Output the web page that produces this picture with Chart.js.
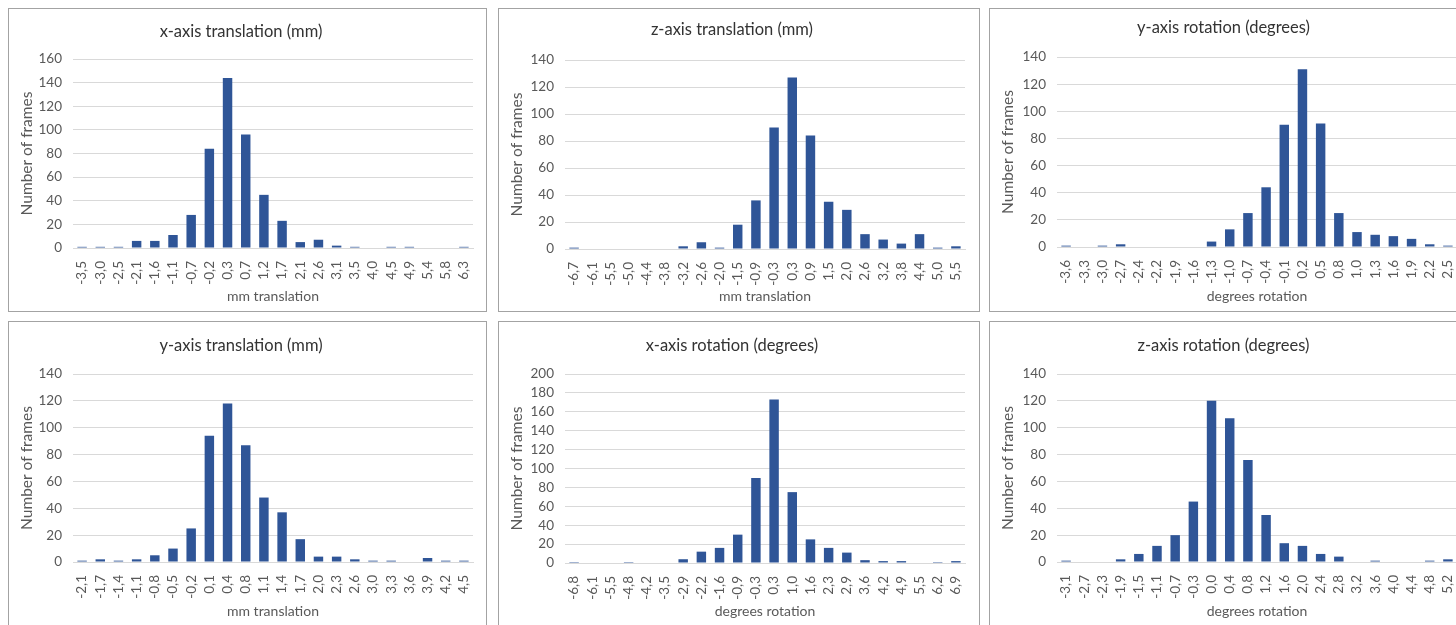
<!DOCTYPE html>
<html>
<head>
<meta charset="utf-8">
<script src="https://cdn.jsdelivr.net/npm/chart.js@4.4.1/dist/chart.umd.min.js"></script>
<style>
  body { margin: 0; width: 1456px; height: 625px; overflow: hidden; background: #fff; position: relative; }
  .panel { position: absolute; border: 1px solid #a3a3a3; background: #fff; overflow: hidden; }
  .panel canvas { display: block; }
</style>
</head>
<body>
<div class="panel" style="left:8px;top:8px;width:477px;height:302px"><canvas id="c1" width="477" height="302"></canvas></div>
<div class="panel" style="left:498px;top:8px;width:480px;height:302px"><canvas id="c2" width="480" height="302"></canvas></div>
<div class="panel" style="left:989px;top:8px;width:480px;height:302px"><canvas id="c3" width="480" height="302"></canvas></div>
<div class="panel" style="left:8px;top:321px;width:477px;height:310px"><canvas id="c4" width="477" height="304"></canvas></div>
<div class="panel" style="left:498px;top:321px;width:480px;height:310px"><canvas id="c5" width="480" height="304"></canvas></div>
<div class="panel" style="left:989px;top:321px;width:480px;height:310px"><canvas id="c6" width="480" height="304"></canvas></div>
<script>
// x-axis translation (mm)
const xTransLabels = ['-3,5', '-3,0', '-2,5', '-2,1', '-1,6', '-1,1', '-0,7', '-0,2', '0,3', '0,7', '1,2', '1,7', '2,1', '2,6', '3,1', '3,5', '4,0', '4,5', '4,9', '5,4', '5,8', '6,3'];
const xTransCounts = [1, 1, 1, 6, 6, 11, 28, 84, 144, 96, 45, 23, 5, 7, 2, 1, 0, 1, 1, 0, 0, 1];

// z-axis translation (mm)
const zTransLabels = ['-6,7', '-6,1', '-5,5', '-5,0', '-4,4', '-3,8', '-3,2', '-2,6', '-2,0', '-1,5', '-0,9', '-0,3', '0,3', '0,9', '1,5', '2,0', '2,6', '3,2', '3,8', '4,4', '5,0', '5,5'];
const zTransCounts = [1, 0, 0, 0, 0, 0, 2, 5, 1, 18, 36, 90, 127, 84, 35, 29, 11, 7, 4, 11, 1, 2];

// y-axis rotation (degrees)
const yRotLabels = ['-3,6', '-3,3', '-3,0', '-2,7', '-2,4', '-2,2', '-1,9', '-1,6', '-1,3', '-1,0', '-0,7', '-0,4', '-0,1', '0,2', '0,5', '0,8', '1,0', '1,3', '1,6', '1,9', '2,2', '2,5'];
const yRotCounts = [1, 0, 1, 2, 0, 0, 0, 0, 4, 13, 25, 44, 90, 131, 91, 25, 11, 9, 8, 6, 2, 1];

// y-axis translation (mm)
const yTransLabels = ['-2,1', '-1,7', '-1,4', '-1,1', '-0,8', '-0,5', '-0,2', '0,1', '0,4', '0,8', '1,1', '1,4', '1,7', '2,0', '2,3', '2,6', '3,0', '3,3', '3,6', '3,9', '4,2', '4,5'];
const yTransCounts = [1, 2, 1, 2, 5, 10, 25, 94, 118, 87, 48, 37, 17, 4, 4, 2, 1, 1, 0, 3, 1, 1];

// x-axis rotation (degrees)
const xRotLabels = ['-6,8', '-6,1', '-5,5', '-4,8', '-4,2', '-3,5', '-2,9', '-2,2', '-1,6', '-0,9', '-0,3', '0,3', '1,0', '1,6', '2,3', '2,9', '3,6', '4,2', '4,9', '5,5', '6,2', '6,9'];
const xRotCounts = [1, 0, 0, 1, 0, 0, 4, 12, 16, 30, 90, 173, 75, 25, 16, 11, 3, 2, 2, 0, 1, 2];

// z-axis rotation (degrees)
const zRotLabels = ['-3,1', '-2,7', '-2,3', '-1,9', '-1,5', '-1,1', '-0,7', '-0,3', '0,0', '0,4', '0,8', '1,2', '1,6', '2,0', '2,4', '2,8', '3,2', '3,6', '4,0', '4,4', '4,8', '5,2'];
const zRotCounts = [1, 0, 0, 2, 6, 12, 20, 45, 120, 107, 76, 35, 14, 12, 6, 4, 0, 1, 0, 0, 1, 2];

const yAxisMax = [160, 140, 140, 140, 200, 140];
const chartTitles = ['x-axis translation (mm)', 'z-axis translation (mm)', 'y-axis rotation (degrees)',
  'y-axis translation (mm)', 'x-axis rotation (degrees)', 'z-axis rotation (degrees)'];
const xAxisTitles = ['mm translation', 'mm translation', 'degrees rotation',
  'mm translation', 'degrees rotation', 'degrees rotation'];

const FONT = 'Lato, "Open Sans", sans-serif';
const BAR = '#2f5597';

// plot box inside each canvas: left, right, top, bottom, title centre
const boxes = [
  { id: 'c1', left: 64, right: 464, top: 50, bottom: 239, tc: 23 },
  { id: 'c2', left: 66, right: 466, top: 51, bottom: 240, tc: 21 },
  { id: 'c3', left: 67, right: 467, top: 48, bottom: 238, tc: 19 },
  { id: 'c4', left: 64, right: 464, top: 52, bottom: 240, tc: 24 },
  { id: 'c5', left: 66, right: 466, top: 52, bottom: 241, tc: 24 },
  { id: 'c6', left: 67, right: 467, top: 52, bottom: 240, tc: 24 }
];

const series = [
  [xTransLabels, xTransCounts],
  [zTransLabels, zTransCounts],
  [yRotLabels, yRotCounts],
  [yTransLabels, yTransCounts],
  [xRotLabels, xRotCounts],
  [zRotLabels, zRotCounts]
];

boxes.forEach((b, i) => {
  const canvas = document.getElementById(b.id);
  const w = canvas.width, h = canvas.height;
  const titleLH = 16.5 * 1.2;
  const padTop = b.tc - titleLH / 2;

  new Chart(canvas, {
    type: 'bar',
    data: {
      labels: series[i][0],
      datasets: [{
        data: series[i][1],
        backgroundColor: BAR,
        borderWidth: 0,
        barPercentage: 1,
        categoryPercentage: 0.52
      }]
    },
    options: {
      responsive: false,
      animation: false,
      layout: { padding: { left: 0, top: 0, bottom: 0, right: w - b.right } },
      plugins: {
        legend: { display: false },
        tooltip: { enabled: false },
        title: {
          display: true,
          text: chartTitles[i],
          color: '#333333',
          font: { family: FONT, size: 16.5, weight: 'normal' },
          padding: { top: padTop, bottom: b.top - padTop - titleLH }
        }
      },
      scales: {
        x: {
          grid: { display: false },
          border: { display: true, color: '#d9d9d9' },
          ticks: {
            color: '#595959',
            font: { family: FONT, size: 13.5 },
            minRotation: 90,
            maxRotation: 90,
            autoSkip: false,
            padding: 5
          },
          title: {
            display: true,
            text: xAxisTitles[i],
            color: '#595959',
            font: { family: FONT, size: 14 },
            padding: { top: 0, bottom: 6 }
          },
          afterFit: (s) => { s.height = h - b.bottom; }
        },
        y: {
          min: 0,
          max: yAxisMax[i],
          grid: { color: '#d9d9d9', drawTicks: false },
          border: { display: false },
          ticks: {
            stepSize: 20,
            autoSkip: false,
            color: '#595959',
            font: { family: FONT, size: 13.5 },
            padding: 11
          },
          title: {
            display: true,
            text: 'Number of frames',
            color: '#595959',
            font: { family: FONT, size: 15.5 },
            padding: { top: 9, bottom: 0 }
          },
          afterFit: (s) => { s.width = b.left; }
        }
      }
    }
  });
});
</script>
</body>
</html>
